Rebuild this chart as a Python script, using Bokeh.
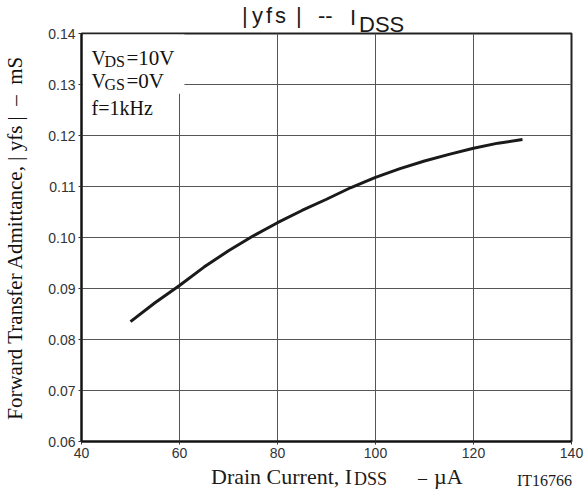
from bokeh.plotting import figure
from bokeh.layouts import column
from bokeh.models import FixedTicker, Label, BoxAnnotation, Range1d, Div
from bokeh.embed import file_html
from bokeh.resources import INLINE

# |yfs| vs IDSS characteristic
idss_uA = [50, 55, 60, 65, 70, 75, 80, 85, 90, 95, 100, 105, 110, 115, 120, 125, 130]
yfs_mS = [0.0835, 0.0872, 0.0906, 0.0942, 0.0974, 0.1003, 0.1029, 0.1053, 0.1075,
          0.1098, 0.1118, 0.1135, 0.1150, 0.1163, 0.1175, 0.1185, 0.1192]

x_ticks = [40, 60, 80, 100, 120, 140]
y_ticks = [0.06, 0.07, 0.08, 0.09, 0.10, 0.11, 0.12, 0.13, 0.14]
y_tick_labels = {t: f"{t:.2f}" for t in y_ticks}

SANS = "Liberation Sans"
SERIF = "Liberation Serif"
# baseline position inside a line box whose line-height equals the font size
BASE_K = {SANS: 0.8465, SERIF: 0.8375}

W = 587
TITLE_H = 20      # strip above the figure
XLAB_H = 22       # strip below the figure
FIG_H = 490 - TITLE_H - XLAB_H

p = figure(width=W, height=FIG_H, output_backend="svg", toolbar_location=None,
           x_range=Range1d(40, 140), y_range=Range1d(0.06, 0.14),
           min_border_left=80, min_border_right=16, min_border_top=33 - TITLE_H,
           min_border_bottom=FIG_H + TITLE_H - 441)
p.border_fill_color = None
p.background_fill_color = "white"

p.xaxis.ticker = FixedTicker(ticks=x_ticks)
p.yaxis.ticker = FixedTicker(ticks=y_ticks)
p.yaxis.major_label_overrides = y_tick_labels
for ax in (p.xaxis, p.yaxis):
    ax.axis_line_color = "#111111"
    ax.axis_line_width = 2
    ax.major_tick_line_color = "#333333"
    ax.major_tick_in = 0
    ax.major_tick_out = 3
    ax.minor_tick_line_color = None
    ax.major_label_text_font = SANS
    ax.major_label_text_font_size = "14px"
    ax.major_label_text_color = "#333333"
p.xaxis.major_label_standoff = 3
p.yaxis.major_label_standoff = 3

p.yaxis.axis_label = "Forward Transfer Admittance, | yfs |\u00a0\u00a0\u2013\u00a0\u00a0mS"
p.yaxis.axis_label_text_font = SERIF
p.yaxis.axis_label_text_font_style = "normal"
p.yaxis.axis_label_text_font_size = "21px"
p.yaxis.axis_label_text_color = "#111111"
p.yaxis.axis_label_standoff = 18

p.xgrid.ticker = FixedTicker(ticks=x_ticks)
p.ygrid.ticker = FixedTicker(ticks=y_ticks)
p.grid.grid_line_color = "#555555"
p.grid.grid_line_width = 1
p.outline_line_color = "#222222"
p.outline_line_width = 2

# white panel behind the test conditions
p.add_layout(BoxAnnotation(left=40.3, right=61, top=0.1398, bottom=0.1282,
                           fill_color="white", fill_alpha=1, line_color=None,
                           level="underlay"))

p.line(idss_uA, yfs_mS, line_color="#1a1a1a", line_width=3)


def put(text, X, Y, size):
    # test-condition text, pixel position measured from the page's top-left corner
    p.add_layout(Label(x=40, y=0.14, x_offset=X - 80, y_offset=33 - Y, text=text,
                       text_font=SERIF, text_font_size=f"{size}px", text_color="#111111",
                       text_align="left", text_baseline="alphabetic"))


put("V", 90, 57, 20)
put("DS", 103, 61, 16)
put("=10V", 125, 57, 21)
put("V", 90, 80, 20)
put("GS", 103, 84, 16)
put("=0V", 125, 80, 21)
put("f=1kHz", 90, 107, 20)


def span(text, X, Y, size, font, spacing, top0):
    # absolutely placed text piece; Y is the baseline on the page
    t = Y - top0 - BASE_K[font] * size
    return (f'<span style="position:absolute;left:{X}px;top:{t:.1f}px;'
            f"font-family:'{font}';font-size:{size}px;line-height:{size}px;"
            f'letter-spacing:{spacing}px;white-space:pre;color:#1a1a1a">{text}</span>')


def strip(pieces, height, top0):
    inner = "".join(span(*pc, top0) for pc in pieces)
    return Div(text=f'<div style="position:relative;width:{W}px;height:{height}px;'
                    f'overflow:visible">{inner}</div>',
               width=W, height=height, margin=(0, 0, 0, 0),
               styles={"overflow": "visible", "z-index": "5"})


title_div = strip([
    ("|", 242, 24, 22, SANS, 0),
    ("yfs", 252, 24, 22, SANS, 3),
    ("|", 296, 24, 22, SANS, 0),
    ("--", 318, 24, 22, SANS, 0),
    ("I", 350, 26, 22, SANS, 0),
    ("DSS", 359, 33, 22, SANS, 0),
], TITLE_H, 0)

xlab_div = strip([
    ("Drain Current, I", 211, 484, 22, SERIF, 0),
    ("DSS", 354, 485, 18, SERIF, 0),
    ("\u2013", 418, 484, 18, SERIF, 0),
    ("\u00b5A", 434, 484, 22, SERIF, 0),
    ("IT16766", 517, 486, 16, SERIF, 0),
], XLAB_H, TITLE_H + FIG_H)

layout = column(title_div, p, xlab_div, spacing=0)

open("out.html", "w").write(file_html(layout, INLINE))
